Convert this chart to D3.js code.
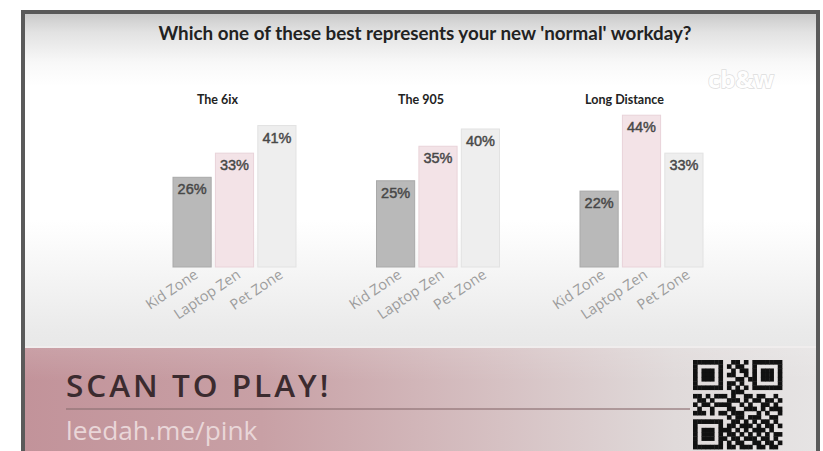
<!DOCTYPE html>
<html><head><meta charset="utf-8">
<script src="https://cdn.jsdelivr.net/npm/d3@7"></script>
<style>html,body{margin:0;padding:0;background:#fff;}svg{display:block;}</style>
</head><body>
<svg id="c" width="823" height="451"></svg>
<script>
const title = "Which one of these best represents your new 'normal' workday?";
const panels = ["The 6ix", "The 905", "Long Distance"];
const categories = ["Kid Zone", "Laptop Zen", "Pet Zone"];
const values6ix = [26, 33, 41];
const values905 = [25, 35, 40];
const valuesLong = [22, 44, 33];
const seriesValues = [values6ix, values905, valuesLong];
const barColors = ["#b9b9b9", "#f3e3e7", "#eeeeee"];
const barStrokes = ["#a9a9a9", "#e9d3d9", "#e2e2e2"];
const qrRows = [
"111111100110101111111",
"100000101011001000001",
"101110100101101011101",
"101110101100101011101",
"101110100011011011101",
"100000101101001000001",
"111111101010101111111",
"000000000111000000000",
"110101110100110110010",
"011010001110101101101",
"101101111001010011010",
"010010001100111010111",
"111010110111000101001",
"000000001011011100110",
"111111100110101011010",
"100000101101110101101",
"101110111010101110100",
"101110101101010101011",
"101110110110111011010",
"100000101011001101101",
"111111101101110110110"];

const svg = d3.select("#c");
const defs = svg.append("defs");

const bg = defs.append("linearGradient").attr("id","bg").attr("x1",0).attr("y1",0).attr("x2",0).attr("y2",1);
[[0,"#c8c8c8"],[0.06,"#e2e2e2"],[0.15,"#f8f8f8"],[0.22,"#ffffff"],[0.62,"#ffffff"],[0.78,"#f5f5f5"],[0.95,"#eaeaea"],[1,"#e8e8e8"]]
  .forEach(([o,c])=>bg.append("stop").attr("offset",o).attr("stop-color",c));

const band = defs.append("linearGradient").attr("id","band").attr("x1",0).attr("y1",0).attr("x2",1).attr("y2",0);
[[0,"#c2939a"],[0.3,"#c8a0a5"],[0.6,"#d6c1c3"],[0.82,"#e0dada"],[1,"#e6e4e4"]]
  .forEach(([o,c])=>band.append("stop").attr("offset",o).attr("stop-color",c));
const bandV = defs.append("linearGradient").attr("id","bandV").attr("x1",0).attr("y1",0).attr("x2",0).attr("y2",1);
[[0,"#ffffff",0.12],[0.3,"#ffffff",0],[1,"#ffffff",0]]
  .forEach(([o,c,a])=>bandV.append("stop").attr("offset",o).attr("stop-color",c).attr("stop-opacity",a));

// frame
svg.append("rect").attr("x",23).attr("y",12).attr("width",795).attr("height",336).attr("fill","url(#bg)");
svg.append("rect").attr("x",23).attr("y",348).attr("width",795).attr("height",110).attr("fill","url(#band)");
svg.append("rect").attr("x",23).attr("y",348).attr("width",795).attr("height",110).attr("fill","url(#bandV)");
svg.append("rect").attr("x",23).attr("y",346).attr("width",795).attr("height",2).attr("fill","#f0eded");
svg.append("path").attr("d","M23,460 V12 H818 V460").attr("fill","none").attr("stroke","#5a5a5a").attr("stroke-width",4);

// title
svg.append("text").attr("x",425).attr("y",40).attr("text-anchor","middle")
  .attr("font-family","Lato, 'Open Sans', sans-serif").attr("font-weight","bold").attr("font-size",18.8)
  .attr("fill","#222").text(title);

// logo
svg.append("text").attr("x",741).attr("y",88).attr("text-anchor","middle")
  .attr("font-family","'Open Sans', sans-serif").attr("font-weight","bold").attr("font-size",24)
  .attr("fill","#ffffff").attr("stroke","#d8d8d8").attr("stroke-width",1.4).attr("paint-order","stroke")
  .attr("opacity",0.85).text("cb&w");

// scales
const xPanel = d3.scaleBand().domain(panels).range([173, 703]).paddingInner(0.3956).paddingOuter(0);
const xCat = d3.scaleBand().domain(categories).range([0, xPanel.bandwidth()]).paddingInner(0.1).paddingOuter(0);
const y = d3.scaleLinear().domain([0, 50]).range([267, 94.5]);

panels.forEach((p, pi) => {
  const g = svg.append("g").attr("transform", `translate(${xPanel(p)},0)`);
  g.append("text").attr("x", xPanel.bandwidth()/2 - 17).attr("y", 104).attr("text-anchor","middle")
    .attr("font-family","Lato, sans-serif").attr("font-weight","bold").attr("font-size",12.5)
    .attr("fill","#222").text(p);
  const data = categories.map((c, i) => ({c, v: seriesValues[pi][i], i}));
  g.selectAll("rect.bar").data(data).join("rect").attr("class","bar")
    .attr("x", d => xCat(d.c)).attr("width", xCat.bandwidth())
    .attr("y", d => y(d.v)).attr("height", d => y(0) - y(d.v))
    .attr("fill", d => barColors[d.i]).attr("stroke", d => barStrokes[d.i]).attr("stroke-width", 1);
  g.selectAll("text.val").data(data).join("text").attr("class","val")
    .attr("x", d => xCat(d.c) + xCat.bandwidth()/2).attr("y", d => y(d.v) + 17)
    .attr("text-anchor","middle").attr("font-family","'Liberation Sans', Arial, sans-serif")
    .attr("font-size",14.5).attr("fill","#484848").attr("stroke","#484848").attr("stroke-width",0.45)
    .text(d => d.v + "%");
  const axis = d3.axisBottom(xCat).tickSize(0).tickPadding(0);
  const ag = g.append("g").attr("transform", `translate(0,${y(0)})`).call(axis);
  ag.select(".domain").remove();
  ag.selectAll("text").attr("font-family","'Open Sans', sans-serif").attr("font-size",14.5)
    .attr("fill","#9c9c9c").attr("text-anchor","end").attr("dy",0)
    .attr("transform","translate(7,10) rotate(-34)");
});

// footer
svg.append("text").attr("x",66).attr("y",397)
  .attr("font-family","'Open Sans', sans-serif").attr("font-weight",600).attr("font-size",31.5)
  .attr("letter-spacing",3).attr("fill","#3b2b2f").text("SCAN TO PLAY!");
svg.append("line").attr("x1",66).attr("x2",690).attr("y1",409).attr("y2",409)
  .attr("stroke","#8f7275").attr("stroke-width",1.5).attr("opacity",0.8);
svg.append("text").attr("x",66).attr("y",440)
  .attr("font-family","'Open Sans', sans-serif").attr("font-size",26.3)
  .attr("fill","#e9d6d8").text("leedah.me/pink");

// QR
const qx = d3.scaleBand().domain(d3.range(21)).range([693, 782]);
const qy = d3.scaleBand().domain(d3.range(21)).range([360, 449]);
const cells = [];
qrRows.forEach((r, ri) => r.split("").forEach((ch, ci) => { if (ch === "1") cells.push({ri, ci}); }));
svg.append("g").selectAll("rect").data(cells).join("rect")
  .attr("x", d => qx(d.ci)).attr("y", d => qy(d.ri))
  .attr("width", qx.bandwidth()+0.4).attr("height", qy.bandwidth()+0.4).attr("fill","#111");
</script>
</body></html>
